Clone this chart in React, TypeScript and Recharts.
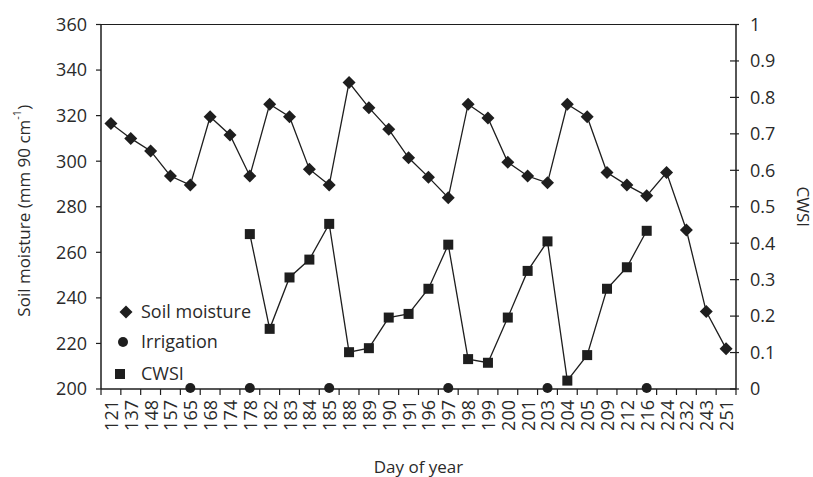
import React from 'react';
import { ComposedChart, Line, XAxis, YAxis, Legend, ReferenceLine, Label } from 'recharts';

const days = ['121','137','148','157','165','168','174','178','182','183','184','185','188','189','190','191','196','197','198','199','200','201','203','204','205','209','212','216','224','232','243','251'];

const soilMoisture = [316.5, 310, 304.5, 293.5, 289.5, 319.5, 311.5, 293.5, 325, 319.5, 296.5, 289.5, 334.5, 323.5, 314, 301.5, 293, 284, 325, 319, 299.5, 293.5, 290.5, 325, 319.5, 295, 289.5, 284.8, 295, 269.8, 234, 217.7];

const cwsiDays = ['178','182','183','184','185','188','189','190','191','196','197','198','199','200','201','203','204','205','209','212','216'];
const cwsiValues = [0.425, 0.165, 0.306, 0.355, 0.453, 0.101, 0.112, 0.196, 0.206, 0.275, 0.396, 0.082, 0.072, 0.196, 0.324, 0.405, 0.023, 0.093, 0.275, 0.334, 0.434];

const irrigationDays = ['165','178','185','197','203','216'];

const leftTicks = [200, 220, 240, 260, 280, 300, 320, 340, 360];
const rightTicks = [0, 0.1, 0.2, 0.3, 0.4, 0.5, 0.6, 0.7, 0.8, 0.9, 1];

const data = days.map((d, i) => {
  const ci = cwsiDays.indexOf(d);
  return {
    idx: i,
    day: d,
    soil: soilMoisture[i],
    cwsi: ci >= 0 ? cwsiValues[ci] : null,
    irrigation: irrigationDays.includes(d) ? 0 : null,
  };
});

const xTicks: number[] = [];
days.forEach((_, i) => { xTicks.push(i - 0.5); xTicks.push(i); });
xTicks.push(days.length - 0.5);

const FONT = '"Open Sans", sans-serif';
const INK = '#1e1e1e';
const TEXT = '#2a2a2a';

const XTick = (props: any) => {
  const { x, y, payload } = props;
  const v = payload.value as number;
  if (Math.abs(v - Math.round(v)) < 1e-6) {
    const label = days[Math.round(v)];
    return (
      <text x={x} y={y + 11} transform={`rotate(-90, ${x}, ${y + 11})`} textAnchor="end" dominantBaseline="central" fontSize={18} fontFamily={FONT} fill={TEXT}>
        {label}
      </text>
    );
  }
  return <line x1={x} x2={x} y1={y} y2={y + 6} stroke={INK} strokeWidth={1.2} />;
};

const RightTick = (props: any) => {
  const { x, y, payload } = props;
  return (
    <g>
      <line x1={x - 6} x2={x + 3} y1={y} y2={y} stroke={INK} strokeWidth={1.2} />
      <text x={x + 14} y={y} dy="0.355em" textAnchor="start" fontSize={18} fontFamily={FONT} fill={TEXT}>
        {payload.value}
      </text>
    </g>
  );
};

const Diamond = (props: any) => {
  const { cx, cy, index } = props;
  if (cx == null || cy == null) return <g key={index} />;
  const r = 6.5;
  return <path key={index} d={`M${cx},${cy - r}L${cx + r},${cy}L${cx},${cy + r}L${cx - r},${cy}Z`} fill={INK} />;
};

const Square = (props: any) => {
  const { cx, cy, index, value } = props;
  if (cx == null || cy == null || value == null) return <g key={index} />;
  return <rect key={index} x={cx - 5} y={cy - 5} width={10} height={10} fill={INK} />;
};

const Circle = (props: any) => {
  const { cx, cy, index, value } = props;
  if (cx == null || cy == null || value == null) return <g key={index} />;
  return <circle key={index} cx={cx} cy={cy - 1} r={5} fill={INK} />;
};

const LegendBox = () => (
  <svg width={160} height={92}>
    <path d="M16,9.5L22.5,16L16,22.5L9.5,16Z" fill={INK} />
    <text x={31} y={16} dy="0.355em" fontSize={18} fontFamily={FONT} fill={TEXT}>Soil moisture</text>
    <circle cx={13} cy={46} r={5} fill={INK} />
    <text x={31} y={46} dy="0.355em" fontSize={18} fontFamily={FONT} fill={TEXT}>Irrigation</text>
    <rect x={5} y={73} width={10} height={10} fill={INK} />
    <text x={31} y={78} dy="0.355em" fontSize={18} fontFamily={FONT} fill={TEXT}>CWSI</text>
  </svg>
);

const LeftTitle = (props: any) => {
  const { viewBox } = props;
  const cx = viewBox.x + 18;
  const cy = viewBox.y + viewBox.height / 2 + 4;
  return (
    <text x={cx} y={cy} transform={`rotate(-90, ${cx}, ${cy})`} textAnchor="middle" dominantBaseline="central" fontSize={17} fontFamily={FONT} fill={TEXT}>
      Soil moisture (mm 90 cm<tspan dy={-7} fontSize={11}>-1</tspan><tspan dy={7}>)</tspan>
    </text>
  );
};

const RightTitle = (props: any) => {
  const { viewBox } = props;
  const cx = viewBox.x + 67;
  const cy = viewBox.y + viewBox.height / 2;
  return (
    <text x={cx} y={cy} transform={`rotate(90, ${cx}, ${cy})`} textAnchor="middle" dominantBaseline="central" fontSize={17} fontFamily={FONT} fill={TEXT}>
      CWSI
    </text>
  );
};

const BottomTitle = (props: any) => {
  const { viewBox } = props;
  const cx = viewBox.x + viewBox.width / 2;
  const cy = viewBox.y + 77;
  return (
    <text x={cx} y={cy} textAnchor="middle" dominantBaseline="central" fontSize={17} fontFamily={FONT} fill={TEXT}>
      Day of year
    </text>
  );
};

export default function App() {
  return (
    <div style={{ position: 'absolute', left: 0, top: 0, background: '#fff' }}>
      <ComposedChart width={813} height={477} data={data} margin={{ top: 24.5, right: 0, bottom: 0, left: 5 }}>
        <XAxis
          dataKey="idx"
          type="number"
          domain={[-0.5, days.length - 0.5]}
          ticks={xTicks}
          interval={0}
          tick={<XTick />}
          tickLine={false}
          tickSize={0}
          tickMargin={0}
          height={88}
          axisLine={{ stroke: INK, strokeWidth: 1.5 }}
          allowDecimals
        >
          <Label content={<BottomTitle />} />
        </XAxis>
        <YAxis
          yAxisId="left"
          domain={[200, 360]}
          ticks={leftTicks}
          interval={0}
          width={96}
          tickSize={5}
          tickMargin={9}
          tick={{ fontSize: 18, fontFamily: FONT, fill: TEXT }}
          tickLine={{ stroke: INK, strokeWidth: 1.2 }}
          axisLine={{ stroke: INK, strokeWidth: 1.5 }}
        >
          <Label content={<LeftTitle />} />
        </YAxis>
        <YAxis
          yAxisId="right"
          orientation="right"
          domain={[0, 1]}
          ticks={rightTicks}
          interval={0}
          width={77}
          tickSize={0}
          tickMargin={0}
          tickLine={false}
          tick={<RightTick />}
          axisLine={{ stroke: INK, strokeWidth: 1.5 }}
        >
          <Label content={<RightTitle />} />
        </YAxis>
        <ReferenceLine yAxisId="left" y={360} stroke={INK} strokeWidth={1.2} />
        <Line yAxisId="left" dataKey="soil" stroke={INK} strokeWidth={1.3} dot={<Diamond />} activeDot={false} isAnimationActive={false} />
        <Line yAxisId="right" dataKey="cwsi" stroke={INK} strokeWidth={1.3} dot={<Square />} activeDot={false} isAnimationActive={false} />
        <Line yAxisId="right" dataKey="irrigation" stroke="none" dot={<Circle />} activeDot={false} isAnimationActive={false} />
        <Legend
          layout="vertical"
          align="center"
          verticalAlign="middle"
          content={<LegendBox />}
          wrapperStyle={{ left: 110, top: 296, width: 160, height: 92 }}
        />
      </ComposedChart>
    </div>
  );
}
